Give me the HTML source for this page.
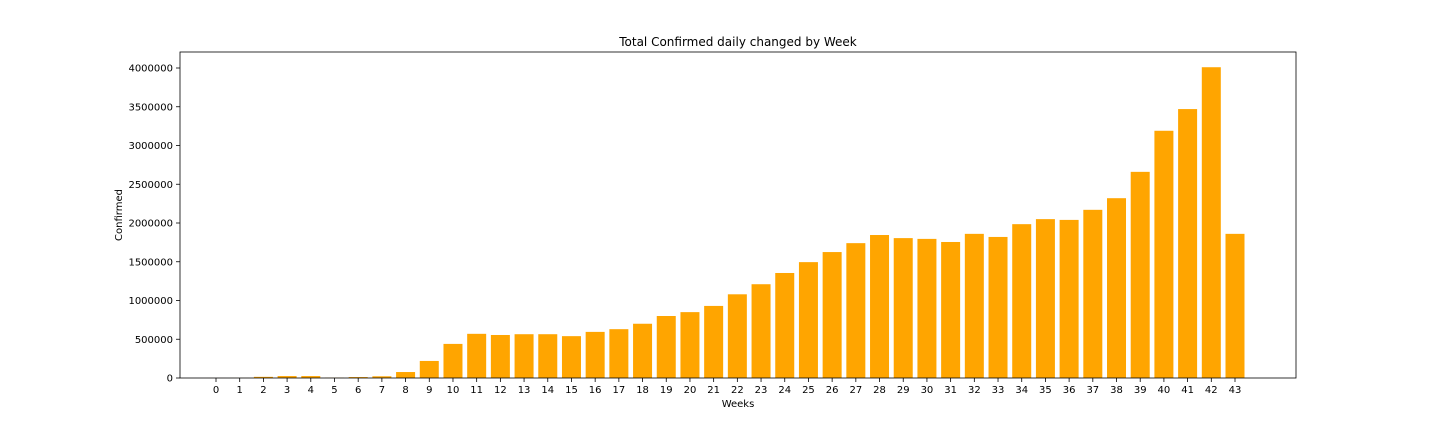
<!DOCTYPE html>
<html><head><meta charset="utf-8"><style>
body{margin:0;background:#fff;}
svg{display:block;font-family:"DejaVu Sans","Liberation Sans",sans-serif;}
</style></head><body>
<svg id="chart" width="1440" height="432"></svg>
<script>
const weeks=[0,1,2,3,4,5,6,7,8,9,10,11,12,13,14,15,16,17,18,19,20,21,22,23,24,25,26,27,28,29,30,31,32,33,34,35,36,37,38,39,40,41,42,43];
const confirmed=[500,1000,15000,25000,25000,3000,12000,22000,77000,220000,440000,570000,555000,565000,565000,540000,595000,630000,700000,800000,850000,930000,1080000,1210000,1355000,1495000,1625000,1740000,1845000,1805000,1795000,1755000,1860000,1820000,1985000,2050000,2040000,2170000,2320000,2660000,3190000,3470000,4010000,1860000];
const yTicks=[0,500000,1000000,1500000,2000000,2500000,3000000,3500000,4000000];
const NS="http://www.w3.org/2000/svg";
const svg=document.getElementById('chart');
const L=180,R=1296,T=52,B=378;
const x=i=>216+(i-weeks[0])*(1235-216)/43;
const y=v=>378-v*(378-68)/4000000;
function mk(t,a,p){const e=document.createElementNS(NS,t);for(const k in a)e.setAttribute(k,a[k]);(p||svg).appendChild(e);return e;}
const bw=19;
weeks.forEach((w,i)=>{
  const r=mk('rect',{x:x(w)-bw/2,y:y(confirmed[i]),width:bw,height:B-y(confirmed[i]),fill:'#ffa500'});
  
  
  mk('line',{x1:x(w),x2:x(w),y1:B,y2:B+4,stroke:'#000','stroke-width':0.8});
  const t=mk('text',{x:x(w),y:B+15,'font-size':10,'text-anchor':'middle'});t.textContent=w;
  
  
});
yTicks.forEach(v=>{
  mk('line',{x1:L-4,x2:L,y1:y(v),y2:y(v),stroke:'#000','stroke-width':0.8});
  const t=mk('text',{x:L-7,y:y(v)+3.5,'font-size':10,'text-anchor':'end'});t.textContent=v;
  
  
});
const f=mk('rect',{x:L,y:T,width:R-L,height:B-T,fill:'none',stroke:'#000','stroke-width':0.8});


const ti=mk('text',{x:(L+R)/2,y:46,'font-size':12,'text-anchor':'middle'});ti.textContent='Total Confirmed daily changed by Week';


const xt=mk('text',{x:(L+R)/2,y:407,'font-size':10,'text-anchor':'middle'});xt.textContent='Weeks';


const yt=mk('text',{x:0,y:0,'font-size':10,'text-anchor':'middle',transform:'translate(122,215) rotate(-90)'});yt.textContent='Confirmed';


</script>
</body></html>
